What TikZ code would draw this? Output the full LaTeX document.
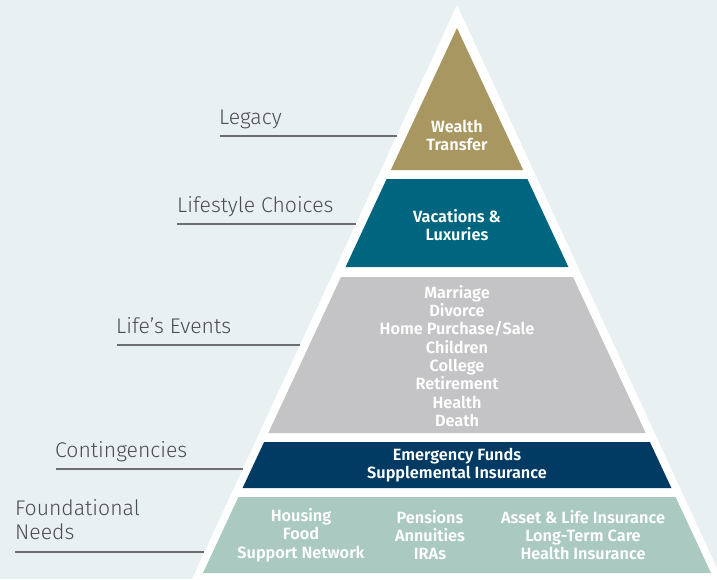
\documentclass[tikz,border=0pt]{standalone}
\usepackage{fontspec}
\setmainfont{Fira Sans}
\newfontfamily\labelfont{Fira Sans}[UprightFont={* Light}]
\newfontfamily\bandfont{Fira Sans}[UprightFont={* SemiBold}]

\definecolor{bgc}{HTML}{E8F0F1}
\definecolor{goldc}{HTML}{A99761}
\definecolor{tealc}{HTML}{00657E}
\definecolor{grayc}{HTML}{C4C4C6}
\definecolor{navyc}{HTML}{013A63}
\definecolor{greenc}{HTML}{A9C9C1}
\definecolor{labelc}{HTML}{4D4D4F}
\definecolor{leaderc}{HTML}{6D6E70}

\tikzset{
  bandtext/.style={text=white, font=\bandfont\fontsize{16.3}{18.3}\selectfont,
                   align=center, inner sep=0pt},
  tierlabel/.style={text=labelc, font=\labelfont\fontsize{21.2}{23.3}\selectfont,
                    align=left, inner sep=0pt, anchor=base west},
  leader/.style={draw=leaderc, line width=1.4pt},
}

\begin{document}
\begin{tikzpicture}[x=1pt, y=-1pt]
  \useasboundingbox (0,0) rectangle (717,579);
  \clip (0,0) rectangle (717,579);
  \fill[bgc] (0,0) rectangle (717,579);

  % white frame of the pyramid
  \fill[white] (457,5) -- (722,579) -- (192,579) -- cycle;

  % tiers, top to bottom
  \fill[goldc]  (457,28) -- (523.2,170) -- (390.8,170) -- cycle;
  \fill[tealc]  (386.6,179) -- (527.4,179) -- (568.4,267) -- (345.6,267) -- cycle;
  \fill[grayc]  (341,277) -- (573,277) -- (645.7,433) -- (268.3,433) -- cycle;
  \fill[navyc]  (264.1,442) -- (649.9,442) -- (671.4,488) -- (242.6,488) -- cycle;
  \fill[greenc] (238.4,497) -- (675.6,497) -- (711,573) -- (203,573) -- cycle;

  % tier contents
  \node[bandtext] (wealth) at (457,135.5) {Wealth\\Transfer};
  \node[bandtext] (vac) at (457,225) {Vacations \&\\Luxuries};
  \node[bandtext] (events) at (457,356) {Marriage\\Divorce\\Home Purchase/Sale\\Children\\College\\Retirement\\Health\\Death};
  \node[bandtext] (cont) at (457,465) {Emergency Funds\\Supplemental Insurance};
  \node[bandtext] (basic) at (301,535) {Housing\\Food\\Support Network};
  \node[bandtext] (pens) at (430,535) {Pensions\\Annuities\\IRAs};
  \node[bandtext] (ins) at (583,535) {Asset \& Life Insurance\\Long-Term Care\\Health Insurance};

  % tier names with leader lines
  \node[tierlabel] (legacy) at (219,124.3) {Legacy};
  \coordinate (legacyA) at (220,136);
  \coordinate (legacyB) at (396.5,136);
  \draw[leader] (legacyA) -- (legacyB);

  \node[tierlabel] (life) at (177,212) {Lifestyle Choices};
  \coordinate (lifeA) at (177,224);
  \coordinate (lifeB) at (355.5,224);
  \draw[leader] (lifeA) -- (lifeB);

  \node[tierlabel] (events lbl) at (116,333) {Life’s Events};
  \coordinate (eventsA) at (117,345);
  \coordinate (eventsB) at (299.9,345);
  \draw[leader] (eventsA) -- (eventsB);

  \node[tierlabel] (cont lbl) at (55,457.7) {Contingencies};
  \coordinate (contA) at (56,469);
  \coordinate (contB) at (242.6,469);
  \draw[leader] (contA) -- (contB);

  % anchored on the baseline of the last line
  \node[tierlabel] (found lbl) at (15,539) {Foundational\\Needs};
  \coordinate (foundA) at (15,552);
  \coordinate (foundB) at (204.3,552);
  \draw[leader] (foundA) -- (foundB);
\end{tikzpicture}
\end{document}
